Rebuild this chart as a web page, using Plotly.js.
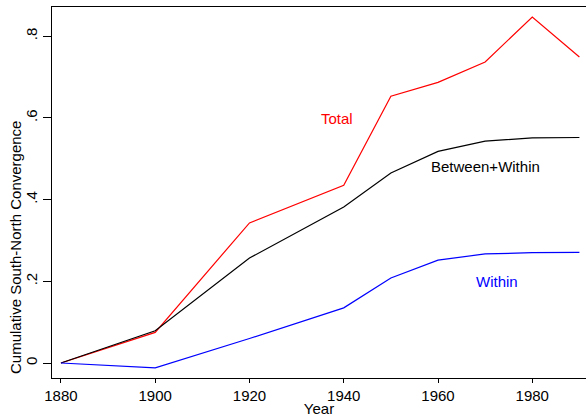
<!DOCTYPE html>
<html><head><meta charset="utf-8">
<script src="https://cdn.plot.ly/plotly-3.0.1.min.js"></script>
<style>html,body{margin:0;padding:0;background:#fff}#c{width:586px;height:417px}</style>
</head><body><div id="c"></div>
<script>
const years = [1880, 1900, 1920, 1940, 1950, 1960, 1970, 1980, 1990];
const total = [0, 0.075, 0.343, 0.435, 0.653, 0.687, 0.737, 0.847, 0.749];
const betweenWithin = [0, 0.079, 0.257, 0.382, 0.465, 0.518, 0.543, 0.551, 0.552];
const within = [0, -0.012, 0.060, 0.135, 0.208, 0.252, 0.267, 0.270, 0.271];
const xTicks = [1880, 1900, 1920, 1940, 1960, 1980];
const yTicks = [0, 0.2, 0.4, 0.6, 0.8];
const yTickText = ['0', '.2', '.4', '.6', '.8'];
const yTitle = 'Cumulative South-North Convergence';
const xTitle = 'Year';
const labels = [
  {text: 'Total', x: 1938.5, y: 0.598, color: '#ff0000'},
  {text: 'Between+Within', x: 1970, y: 0.480, color: '#000000'},
  {text: 'Within', x: 1972.6, y: 0.200, color: '#0000ff'}
];

const font = {family: 'Liberation Sans, Arial, sans-serif', size: 15, color: '#000'};
const traces = [
  {x: years, y: total, mode: 'lines', line: {color: '#ff0000', width: 1.2}, name: 'Total'},
  {x: years, y: betweenWithin, mode: 'lines', line: {color: '#000000', width: 1.2}, name: 'Between+Within'},
  {x: years, y: within, mode: 'lines', line: {color: '#0000ff', width: 1.2}, name: 'Within'}
];
const annotations = labels.map(l => ({
  text: l.text, x: l.x, y: l.y, xref: 'x', yref: 'y', showarrow: false,
  font: {family: font.family, size: 15, color: l.color}
}));
annotations.push({
  text: yTitle, xref: 'paper', yref: 'paper', x: -0.0693, y: 0.353,
  xanchor: 'center', yanchor: 'middle', textangle: -90, showarrow: false,
  font: font
});
const layout = {
  width: 586, height: 417,
  margin: {l: 52, r: 0, t: 7, b: 39, pad: 0},
  paper_bgcolor: '#fff', plot_bgcolor: '#fff',
  showlegend: false,
  font: font,
  xaxis: {
    range: [1878.1, 1991.4], tickvals: xTicks, ticktext: xTicks.map(String),
    showgrid: false, zeroline: false, showline: true, linecolor: '#000', linewidth: 1,
    mirror: true, ticks: 'outside', ticklen: 4, tickcolor: '#000',
    tickfont: font,
    title: {text: xTitle, font: font, standoff: 0}
  },
  yaxis: {
    range: [-0.0367, 0.8715], tickvals: yTicks, ticktext: yTickText, tickangle: -90,
    showgrid: false, zeroline: false, showline: true, linecolor: '#000', linewidth: 1,
    ticks: 'outside', ticklen: 8, tickcolor: '#000',
    tickfont: font
  },
  annotations: annotations
};
Plotly.newPlot('c', traces, layout, {displayModeBar: false, staticPlot: true});
</script></body></html>
